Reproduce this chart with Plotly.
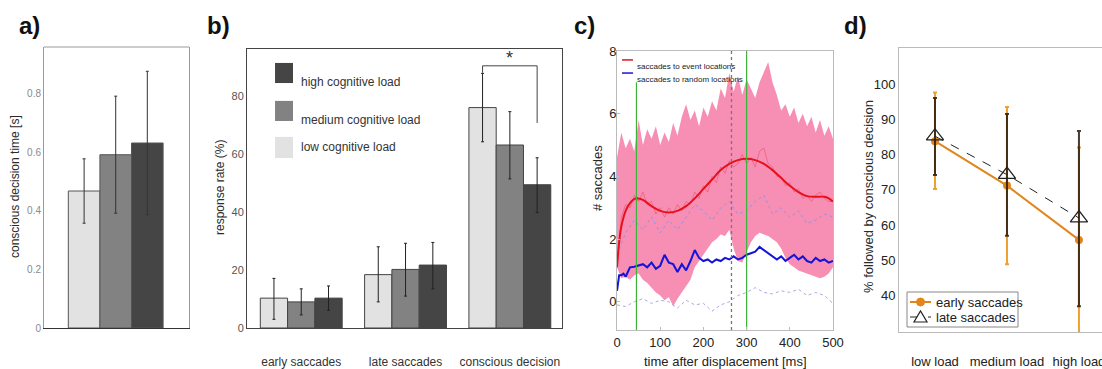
import plotly.graph_objects as go

# ---------------- data ----------------
# panel a
load_levels = ["low cognitive load", "medium cognitive load", "high cognitive load"]
load_colors = ["#e2e2e2", "#828282", "#454545"]
decision_time = [0.468, 0.592, 0.632]
decision_time_err = [0.11, 0.20, 0.245]

# panel b
b_categories = ["early saccades", "late saccades", "conscious decision"]
rate_low = [10.3, 18.4, 76.0]
rate_low_up = [6.8, 9.6, 11.8]
rate_low_dn = [7.3, 9.4, 11.8]
rate_med = [9.0, 20.2, 63.1]
rate_med_up = [4.5, 9.0, 11.5]
rate_med_dn = [4.5, 9.2, 11.7]
rate_high = [10.3, 21.7, 49.4]
rate_high_up = [4.2, 7.8, 9.3]
rate_high_dn = [4.2, 8.2, 9.6]
sig_bracket_y = [88.0, 90.4, 70.7]   # left drop end, top, right drop end

# panel c
t_ms = list(range(0, 501, 10))
band_upper = [4.6, 5.4, 4.9, 5.2, 4.8, 5.8, 5.0, 5.5, 5.2, 5.6, 5.0, 5.4, 5.1, 5.7, 5.3, 5.9,
              6.3, 5.8, 6.1, 5.6, 6.2, 5.9, 6.4, 6.1, 6.8, 6.5, 7.3, 6.7, 7.2, 6.6, 7.1, 6.8,
              6.5, 7.0, 7.3, 7.65, 7.0, 6.6, 6.1, 6.3, 5.9, 6.2, 5.7, 6.0, 5.6, 5.9, 5.4, 5.8,
              5.3, 5.6, 5.2]
band_lower = [1.1, 0.75, 0.8, 0.7, 0.85, 0.9, 0.7, 0.6, 0.45, 0.3, 0.2, 0.05, 0.15, -0.15,
              0.1, 0.3, 0.5, 0.7, 1.1, 1.3, 1.5, 1.7, 1.9, 2.0, 2.15, 2.1, 2.3, 1.7, 1.3, 1.25,
              1.6, 1.9, 2.1, 2.2, 2.15, 2.1, 2.0, 1.9, 1.7, 1.4, 1.2, 1.1, 1.0, 0.95, 0.9, 0.85,
              0.8, 0.75, 0.8, 0.9, 1.1]
red_raw = [1.1, 2.7, 3.1, 3.0, 3.4, 3.2, 3.5, 3.1, 3.2, 2.8, 3.0, 2.7, 3.0, 2.8, 3.1, 2.9,
           3.2, 3.1, 3.5, 3.3, 3.7, 3.5, 4.0, 3.8, 4.3, 4.1, 4.5, 4.3, 4.4, 4.7, 4.4, 4.6,
           4.3, 4.8, 4.9, 4.4, 4.3, 4.0, 4.0, 3.7, 3.8, 3.5, 3.6, 3.3, 3.4, 3.2, 3.4, 3.5,
           3.3, 3.2, 3.2]
t_smooth = [0, 5, 10, 20, 30, 45, 60, 80, 100, 120, 140, 160, 180, 200, 220, 240, 260, 280,
            300, 320, 340, 360, 380, 400, 420, 440, 460, 480, 490, 500]
red_smooth = [1.1, 1.9, 2.4, 2.9, 3.15, 3.3, 3.25, 3.05, 2.9, 2.85, 2.9, 3.05, 3.3, 3.6, 3.9,
              4.2, 4.4, 4.52, 4.56, 4.52, 4.4, 4.2, 3.95, 3.7, 3.5, 3.37, 3.35, 3.35, 3.3, 3.2]
t_blue = [0, 5, 10, 15, 20, 25, 30, 40, 50, 60, 70, 80, 90, 100, 110, 120, 130, 140, 150, 160,
          170, 180, 190, 200, 210, 220, 230, 240, 250, 260, 270, 280, 290, 300, 310, 320, 330,
          340, 350, 360, 370, 380, 390, 400, 410, 420, 430, 440, 450, 460, 470, 480, 490, 500]
blue_mean = [0.35, 0.85, 0.85, 0.9, 0.8, 0.95, 1.1, 1.12, 1.15, 1.2, 1.1, 1.25, 1.05, 1.15,
             1.5, 1.25, 1.2, 0.95, 1.2, 1.0, 1.3, 1.65, 1.4, 1.3, 1.35, 1.25, 1.35, 1.3, 1.4,
             1.35, 1.45, 1.35, 1.4, 1.5, 1.55, 1.6, 1.75, 1.65, 1.55, 1.45, 1.35, 1.45, 1.3,
             1.4, 1.5, 1.35, 1.45, 1.3, 1.25, 1.4, 1.3, 1.35, 1.25, 1.3]
t_dash = list(range(0, 501, 20))
blue_upper = [1.5, 2.2, 2.6, 2.3, 2.7, 2.2, 2.6, 2.3, 2.7, 3.1, 2.9, 2.6, 3.0, 3.2, 2.8, 2.9,
              3.2, 3.4, 2.8, 3.0, 2.7, 2.9, 2.5, 2.6, 2.8, 2.7]
blue_lower = [-0.1, -0.15, 0.0, 0.1, -0.05, 0.05, 0.0, -0.2, 0.05, -0.1, -0.05, -0.3, -0.1,
              0.0, 0.2, 0.3, 0.45, 0.3, 0.25, 0.35, 0.3, 0.4, 0.2, 0.3, 0.2, -0.05]
green_marks_ms = [45, 300]
green_top = [7.0, 8.0]
dashed_mark_ms = 265

# panel d
d_categories = ["low load", "medium load", "high load"]
early_pct = [83.8, 71.2, 55.8]
early_up = [13.8, 22.3, 26.2]
early_dn = [13.6, 22.3, 27.0]
late_pct = [85.2, 74.3, 62.0]
late_up = [10.8, 17.2, 24.7]
late_dn = [11.0, 17.3, 25.0]
d_legend = ["early saccades", "late saccades"]

# axis titles
y_titles = ["conscious decision time [s]", "response rate (%)", "# saccades",
            "% followed by conscious decision"]
x_title_c = "time after displacement [ms]"

# ---------------- figure ----------------
W, H = 1102, 369
def px(x):
    return x / W
def py(y):
    return 1 - y / H

SANS = "Liberation Sans, Arial, sans-serif"
ORANGE = "#e0861c"

fig = go.Figure()

# ----- panel a -----
fig.add_trace(go.Bar(
    x=[0, 1, 2], y=decision_time, width=1,
    marker=dict(color=load_colors, line=dict(color="#555555", width=1)),
    error_y=dict(type="data", array=decision_time_err, color="#333333", thickness=1, width=1.5),
    xaxis="x", yaxis="y", showlegend=False))

# ----- panel b -----
bw = 0.785 / 3
for i, (vals, up, dn) in enumerate([(rate_low, rate_low_up, rate_low_dn),
                                    (rate_med, rate_med_up, rate_med_dn),
                                    (rate_high, rate_high_up, rate_high_dn)]):
    fig.add_trace(go.Bar(
        x=list(range(len(b_categories))), y=vals, name=load_levels[i],
        marker=dict(color=load_colors[i], line=dict(color="#444444", width=1)),
        error_y=dict(type="data", symmetric=False, array=up, arrayminus=dn,
                     color="#222222", thickness=1, width=1.5),
        xaxis="x2", yaxis="y2", showlegend=False))

# ----- panel c -----
fig.add_trace(go.Scatter(
    x=t_ms + t_ms[::-1], y=band_upper + band_lower[::-1], fill="toself",
    fillcolor="#f78fb5", line=dict(width=0), mode="lines",
    xaxis="x3", yaxis="y3", showlegend=False, hoverinfo="skip"))
fig.add_trace(go.Scatter(x=t_dash, y=blue_upper, mode="lines",
                         line=dict(color="#9c8fd8", width=1, dash="dot"),
                         xaxis="x3", yaxis="y3", showlegend=False))
fig.add_trace(go.Scatter(x=t_dash, y=blue_lower, mode="lines",
                         line=dict(color="#b0a8e0", width=1, dash="dot"),
                         xaxis="x3", yaxis="y3", showlegend=False))
fig.add_trace(go.Scatter(x=t_ms, y=red_raw, mode="lines",
                         line=dict(color="rgba(220,40,60,0.45)", width=0.8),
                         xaxis="x3", yaxis="y3", showlegend=False))
fig.add_trace(go.Scatter(x=t_smooth, y=red_smooth, mode="lines", line_shape="spline",
                         line=dict(color="#e8101c", width=2),
                         xaxis="x3", yaxis="y3", showlegend=False))
fig.add_trace(go.Scatter(x=t_blue, y=blue_mean, mode="lines",
                         line=dict(color="#1414d8", width=2),
                         xaxis="x3", yaxis="y3", showlegend=False))
for tm, top in zip(green_marks_ms, green_top):
    fig.add_trace(go.Scatter(x=[tm, tm], y=[-0.9, top], mode="lines",
                             line=dict(color="#3cb43c", width=1.2),
                             xaxis="x3", yaxis="y3", showlegend=False, hoverinfo="skip"))
fig.add_shape(type="line", xref="x3", yref="y3 domain", x0=dashed_mark_ms, x1=dashed_mark_ms,
              y0=0, y1=1, line=dict(color="#777777", width=1.3, dash="dot"))

# ----- panel d -----
fig.add_trace(go.Scatter(
    x=[0, 1, 2], y=early_pct, mode="lines+markers", name=d_legend[0],
    line=dict(color=ORANGE, width=2), marker=dict(symbol="circle", size=8, color=ORANGE),
    error_y=dict(type="data", symmetric=False, array=early_up, arrayminus=early_dn,
                 color="#f0a030", thickness=2, width=2),
    xaxis="x4", yaxis="y4", showlegend=False))
fig.add_trace(go.Scatter(
    x=[0, 1, 2], y=late_pct, mode="lines+markers", name=d_legend[1],
    line=dict(color="#222222", width=1, dash="dash"),
    marker=dict(symbol="triangle-up-open", size=15, color="#222222", line=dict(width=1.3)),
    error_y=dict(type="data", symmetric=False, array=late_up, arrayminus=late_dn,
                 color="rgba(40,25,10,0.85)", thickness=2, width=2),
    xaxis="x4", yaxis="y4", showlegend=False))

# ----- panel b legend, bracket -----
ydom_b = [(0.950, 0.878), (0.814, 0.742), (0.685, 0.609)]
order = [2, 1, 0]
for k, i in enumerate(order):
    y1, y0 = ydom_b[k]
    fig.add_shape(type="rect", xref="x2 domain", yref="y2 domain", x0=0.089, x1=0.146,
                  y0=y0, y1=y1, fillcolor=load_colors[i], line=dict(width=0))
    fig.add_annotation(xref="x2 domain", yref="y2 domain", x=0.165, y=(y0 + y1) / 2,
                       text=load_levels[i], showarrow=False, xanchor="left",
                       font=dict(family=SANS, size=12, color="#333333"))

ci = len(b_categories) - 1
xl = ci - bw
xr = ci + bw
fig.add_shape(type="line", xref="x2", yref="y2", x0=xl, x1=xl, y0=sig_bracket_y[0],
              y1=sig_bracket_y[1], line=dict(color="#444444", width=1))
fig.add_shape(type="line", xref="x2", yref="y2", x0=xl, x1=xr, y0=sig_bracket_y[1],
              y1=sig_bracket_y[1], line=dict(color="#444444", width=1))
fig.add_shape(type="line", xref="x2", yref="y2", x0=xr, x1=xr, y0=sig_bracket_y[1],
              y1=sig_bracket_y[2], line=dict(color="#444444", width=1))
fig.add_annotation(xref="x2", yref="y2", x=ci, y=sig_bracket_y[1], text="*", showarrow=False,
                   yanchor="bottom", yshift=-4, font=dict(family=SANS, size=18, color="#333333"))

# ----- panel c legend -----
for yd, col, txt in [(0.968, "#e8101c", "saccades to event locations"),
                     (0.921, "#1414d8", "saccades to random locations")]:
    fig.add_shape(type="line", xref="x3 domain", yref="y3 domain", x0=0.023, x1=0.074,
                  y0=yd, y1=yd, line=dict(color=col, width=1.5))
    fig.add_annotation(xref="x3 domain", yref="y3 domain", x=0.085, y=yd, text=txt,
                       showarrow=False, xanchor="left",
                       font=dict(family=SANS, size=8, color="#222222"))

# ----- panel d legend (drawn) -----
fig.add_shape(type="rect", xref="paper", yref="paper", x0=px(907), x1=px(1018),
              y0=py(327), y1=py(292), fillcolor="white", line=dict(color="#888888", width=1))
fig.add_shape(type="line", xref="paper", yref="paper", x0=px(910), x1=px(931),
              y0=py(302), y1=py(302), line=dict(color=ORANGE, width=2))
fig.add_shape(type="circle", xref="paper", yref="paper", x0=px(916.5), x1=px(924.5),
              y0=py(306), y1=py(298), fillcolor=ORANGE, line=dict(color=ORANGE, width=1))
fig.add_shape(type="line", xref="paper", yref="paper", x0=px(910), x1=px(931),
              y0=py(317), y1=py(317), line=dict(color="#222222", width=1, dash="dash"))
fig.add_shape(type="path", xref="paper", yref="paper",
              path=f"M {px(914)},{py(322)} L {px(927)},{py(322)} L {px(920.5)},{py(311)} Z",
              fillcolor="white", line=dict(color="#222222", width=1.2))
for yy, txt in zip([302, 317], d_legend):
    fig.add_annotation(xref="paper", yref="paper", x=px(934), y=py(yy), text=txt,
                       showarrow=False, xanchor="left", yanchor="middle",
                       font=dict(family=SANS, size=13, color="#222222"))

# ----- axis titles as annotations -----
for txt, xx, yy, sz in zip(y_titles, [15, 220, 598, 868], [187, 187, 178, 197],
                           [12, 12, 13, 13]):
    fig.add_annotation(xref="paper", yref="paper", x=px(xx), y=py(yy), text=txt,
                       textangle=-90, showarrow=False, xanchor="center", yanchor="middle",
                       font=dict(family=SANS, size=sz, color="#2a2a2a"))
fig.add_annotation(xref="paper", yref="paper", x=px(725), y=py(361), text=x_title_c,
                   showarrow=False, xanchor="center", yanchor="middle",
                   font=dict(family=SANS, size=13, color="#222222"))

# panel a top line (lighter)
fig.add_shape(type="line", xref="x domain", yref="y domain", x0=0, x1=1, y0=1, y1=1,
              line=dict(color="#9a9a9a", width=1))

# panel labels
for lab, xpix in [("a)", 17), ("b)", 205), ("c)", 572), ("d)", 842)]:
    fig.add_annotation(xref="paper", yref="paper", x=px(xpix), y=py(25), text=f"<b>{lab}</b>",
                       showarrow=False, font=dict(family=SANS, size=24, color="#111111"),
                       xanchor="left", yanchor="middle")

# ----- axes -----
axis_common = dict(showgrid=False, zeroline=False, automargin=False)
fig.update_layout(
    width=W, height=H, margin=dict(l=0, r=0, t=0, b=0, autoexpand=False),
    paper_bgcolor="white", plot_bgcolor="white",
    barmode="group", bargap=0.215, bargroupgap=0, showlegend=False,
    xaxis=dict(domain=[px(44), px(189)], anchor="y", range=[-1.27, 3.32],
               showticklabels=False, ticks="", showline=True, linecolor="#333333",
               linewidth=1, **axis_common),
    yaxis=dict(domain=[py(328), py(47)], anchor="x", range=[0, 0.96],
               tickvals=[0, 0.2, 0.4, 0.6, 0.8], ticktext=["0", "0.2", "0.4", "0.6", "0.8"],
               tickfont=dict(family=SANS, size=10, color="#8a8a8a"), ticks="",
               showline=True, mirror=True, linecolor="#9a9a9a", linewidth=1,
               **axis_common),
    xaxis2=dict(domain=[px(247), px(562)], anchor="y2", range=[-0.52, 2.5],
                tickvals=[0, 1, 2], ticktext=b_categories, ticks="",
                tickfont=dict(family=SANS, size=12, color="#333333"), ticklabelstandoff=23,
                showline=True, mirror=True, linecolor="#444444", linewidth=1, **axis_common),
    yaxis2=dict(domain=[py(328), py(49)], anchor="x2", range=[0, 96.2],
                tickvals=[0, 20, 40, 60, 80], ticks="",
                tickfont=dict(family=SANS, size=11, color="#555555"),
                showline=True, mirror=True, linecolor="#444444", linewidth=1,
                **axis_common),
    xaxis3=dict(domain=[px(617), px(833)], anchor="y3", range=[0, 500],
                tickvals=[0, 100, 200, 300, 400, 500], ticks="inside", ticklen=3,
                tickcolor="#bbbbbb",
                tickfont=dict(family=SANS, size=13, color="#222222"),
                showline=True, mirror=True, linecolor="#bbbbbb", linewidth=1,
                **axis_common),
    yaxis3=dict(domain=[py(330), py(51)], anchor="x3", range=[-0.9, 8],
                tickvals=[0, 2, 4, 6, 8], ticks="inside", ticklen=3, tickcolor="#bbbbbb",
                tickfont=dict(family=SANS, size=13, color="#222222"), ticklabelstandoff=-3,
                showline=True, mirror=True, linecolor="#bbbbbb", linewidth=1,
                **axis_common),
    xaxis4=dict(domain=[px(899), 1.0], anchor="y4", range=[-0.5, 2.32],
                tickvals=[0, 1, 2], ticktext=d_categories, ticks="",
                tickfont=dict(family=SANS, size=13, color="#222222"), ticklabelstandoff=17,
                ticklabeloverflow="allow",
                showline=True, mirror=True, linecolor="#bbbbbb", linewidth=1, **axis_common),
    yaxis4=dict(domain=[py(332), py(48)], anchor="x4", range=[29.7, 110.2],
                tickvals=[40, 50, 60, 70, 80, 90, 100], ticks="",
                tickfont=dict(family=SANS, size=13, color="#222222"),
                showline=True, mirror=True, linecolor="#bbbbbb", linewidth=1,
                **axis_common),
)

fig.write_html("out.html", config={"displayModeBar": False},
               post_script="document.body.style.margin='0';document.body.style.overflow='hidden';")
